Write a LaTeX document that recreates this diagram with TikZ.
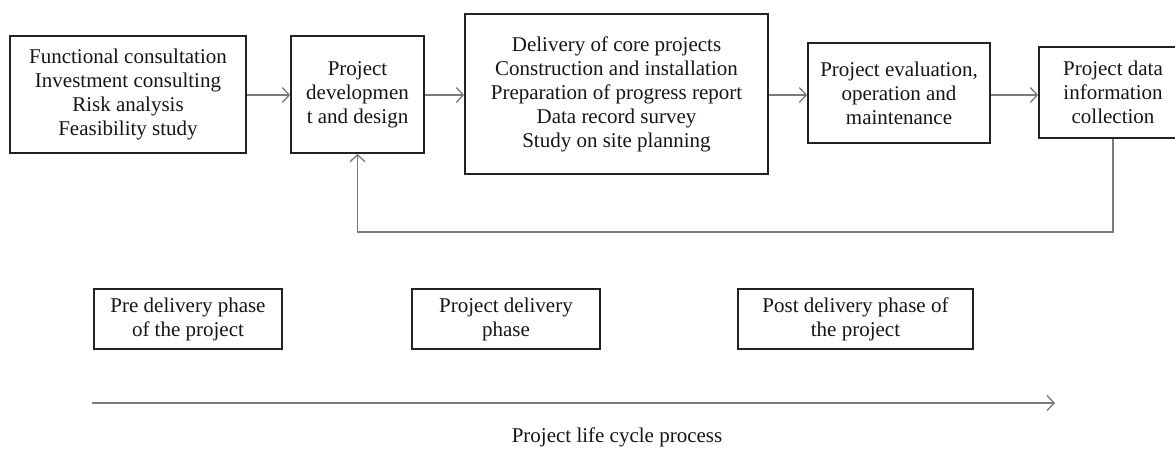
\documentclass[tikz,border=0pt]{standalone}
\usepackage{fontspec}
\setmainfont{Liberation Serif}
\usetikzlibrary{arrows.meta}
\definecolor{boxline}{HTML}{222222}
\definecolor{arrline}{HTML}{7A7A7A}
\definecolor{txt}{HTML}{151515}
\begin{document}
\begin{tikzpicture}[x=1pt,y=-1pt,
  box/.style={draw=boxline,line width=1.7pt,rectangle,inner sep=0pt,align=center,text=txt,
    font=\fontsize{21}{24}\selectfont},
  flow/.style={draw=arrline,line width=1.3pt,-{Straight Barb[length=7pt,width=15pt,line width=1.3pt]}},
  plain/.style={draw=arrline,line width=1.3pt}]
\useasboundingbox (0,0) rectangle (1175,448);
\node[box,minimum width=236pt,minimum height=117pt] (b1) at (128,94.5)
  {Functional consultation\\Investment consulting\\Risk analysis\\Feasibility study};
\node[box,minimum width=133pt,minimum height=117pt] (b2) at (357.5,94.5)
  {Project\\developmen\\t and design};
\node[box,minimum width=303pt,minimum height=160pt] (b3) at (616.5,94)
  {Delivery of core projects\\Construction and installation\\Preparation of progress report\\Data record survey\\Study on site planning};
\node[box,minimum width=182pt,minimum height=100pt] (b4) at (899,93)
  {Project evaluation,\\operation and\\maintenance};
\node[box,minimum width=148pt,minimum height=91pt] (b5) at (1113,92.5)
  {Project data\\information\\collection};
\node[box,minimum width=188pt,minimum height=60pt] (p1) at (188,319)
  {Pre delivery phase\\of the project};
\node[box,minimum width=188pt,minimum height=60pt] (p2) at (506,319)
  {Project delivery\\phase};
\node[box,minimum width=235pt,minimum height=60pt] (p3) at (855.5,319)
  {Post delivery phase of\\the project};
\draw[flow] (b1.east |- 0,95) -- (b2.west |- 0,95);
\draw[flow] (b2.east |- 0,95) -- (b3.west |- 0,95);
\draw[flow] (b3.east |- 0,95) -- (b4.west |- 0,95);
\draw[flow] (b4.east |- 0,95) -- (b5.west |- 0,95);
\coordinate (fb) at (1113,232);
\draw[flow] (b5.south) -- (fb) -| (b2.south);
\coordinate (axs) at (92,403);
\coordinate (axe) at (1055,403);
\draw[flow] (axs) -- (axe);
\node[text=txt,font=\fontsize{21}{24}\selectfont,inner sep=0pt] (lbl) at (617,437) {Project life cycle process};
\end{tikzpicture}
\end{document}
